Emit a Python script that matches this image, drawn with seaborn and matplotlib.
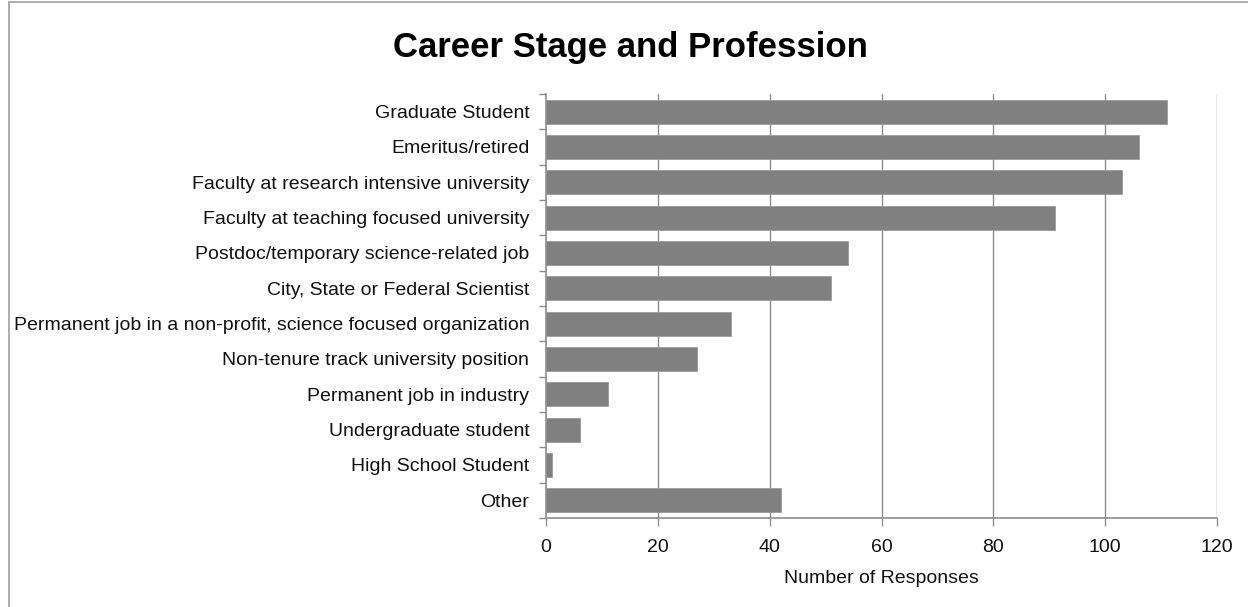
import matplotlib
matplotlib.use("Agg")
import matplotlib.pyplot as plt
from matplotlib.patches import Rectangle
import numpy as np
import pandas as pd
import seaborn as sns

categories = [
    "Graduate Student",
    "Emeritus/retired",
    "Faculty at research intensive university",
    "Faculty at teaching focused university",
    "Postdoc/temporary science-related job",
    "City, State or Federal Scientist",
    "Permanent job in a non-profit, science focused organization",
    "Non-tenure track university position",
    "Permanent job in industry",
    "Undergraduate student",
    "High School Student",
    "Other",
]
responses = [111, 106, 103, 91, 54, 51, 33, 27, 11, 6, 1, 42]
x_ticks = [0, 20, 40, 60, 80, 100, 120]

sns.set_style("white")
plt.rcParams["font.family"] = ["Liberation Sans", "DejaVu Sans"]

df = pd.DataFrame({"Career": categories, "Responses": responses})

fig = plt.figure(figsize=(12.48, 6.07), dpi=100)
ax = fig.add_axes([546 / 1248, 1 - 518 / 607, (1217 - 546) / 1248, (518 - 94) / 607])

grid_col = "#8c8c8c"
ax.set_xlim(0, 120)
ax.set_xticks(x_ticks)
for t in x_ticks[1:]:
    ax.axvline(t, color=grid_col, lw=1.0, zorder=0)

sns.barplot(data=df, x="Responses", y="Career", orient="h", color="#808080",
            saturation=1, width=0.68, edgecolor="#9a9a9a", linewidth=0.6,
            ax=ax, zorder=2)

ax.set_ylim(len(categories) - 0.5, -0.5)
ax.set_ylabel("")
ax.set_xlabel("Number of Responses", fontsize=14, color="#111111", labelpad=10)

for side in ("top", "right"):
    ax.spines[side].set_visible(False)
for side in ("left", "bottom"):
    ax.spines[side].set_color(grid_col)
    ax.spines[side].set_linewidth(1.2)

# category boundary ticks on the vertical axis
ax.set_yticks(np.arange(-0.5, len(categories)), minor=True)
ax.tick_params(axis="y", which="both", left=True)
ax.tick_params(axis="x", which="both", bottom=True)
ax.tick_params(axis="y", which="major", length=0, labelsize=14, pad=12, colors="#111111")
ax.tick_params(axis="y", which="minor", length=5, color=grid_col, width=1)
ax.tick_params(axis="x", which="major", length=6, color=grid_col, width=1,
               labelsize=14, labelcolor="#111111", pad=9)

fig.text(630 / 1248, 1 - 47 / 607, "Career Stage and Profession", ha="center", va="center",
         fontsize=25, fontweight="bold", color="#000000")

# chart area frame
fig.patches.append(Rectangle((9 / 1248, -0.05), 1.2, 1.05 - 1.5 / 607, transform=fig.transFigure,
                             fill=False, edgecolor="#a0a0a0", lw=1.2))

fig.savefig("out.png", dpi=100)
